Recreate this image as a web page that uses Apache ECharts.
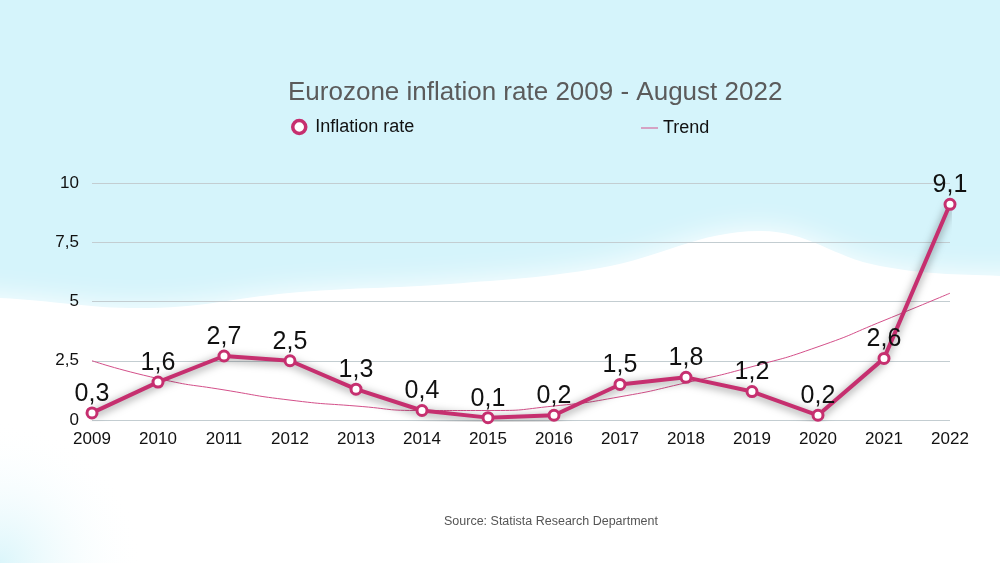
<!DOCTYPE html>
<html><head><meta charset="utf-8">
<script src="https://cdn.jsdelivr.net/npm/echarts@6/dist/echarts.min.js"></script>
<style>html,body{margin:0;padding:0;background:#fff}#c{width:1000px;height:563px}</style>
</head><body><div id="c"></div>
<script>
const years = ['2009','2010','2011','2012','2013','2014','2015','2016','2017','2018','2019','2020','2021','2022'];
const inflation = [0.3,1.6,2.7,2.5,1.3,0.4,0.1,0.2,1.5,1.8,1.2,0.2,2.6,9.1];
const trend = [2.5,1.75,1.27,0.84,0.59,0.4,0.4,0.59,0.98,1.57,2.25,3.09,4.2,5.35];

const MAG = '#c62f6f';
const FONT = "'Liberation Sans', Arial, sans-serif";
const fmt = v => String(v).replace('.', ',');
const chart = echarts.init(document.getElementById('c'));
chart.setOption({
  animation:false,
  backgroundColor:'#d5f4fb',
  graphic:[
    {id:'wave', type:'polygon', z:-10, silent:true,
     shape:{points:[[-100,296],[0,298],[150,308],[300,292],[450,284],[600,268],[760,231],[880,266],[1000,276],[1100,276],[1100,700],[-100,700]], smooth:0.4},
     style:{fill:'#ffffff', shadowBlur:30, shadowColor:'rgba(255,255,255,1)'}},
    {id:'glow', type:'rect', z:-9, silent:true, shape:{x:0,y:420,width:450,height:143},
     style:{fill:new echarts.graphic.RadialGradient(0,1,1,[{offset:0,color:'rgba(213,244,250,0.85)'},{offset:1,color:'rgba(255,255,255,0)'}])}},
    {id:'src', type:'text', left:444, top:515, z:5,
     style:{text:'Source: Statista Research Department', fontSize:12.5, fill:'#555', fontFamily:FONT}}
  ],
  title:{text:'Eurozone inflation rate 2009 - August 2022', left:283, top:75,
    textStyle:{fontSize:26, fontWeight:'normal', color:'#5b5b5b', fontFamily:FONT}},
  legend:[
    {data:[{name:'Inflation rate', icon:'circle', itemStyle:{color:'#fff', borderColor:MAG, borderWidth:3.5}}],
     left:286, top:113, itemWidth:22, itemHeight:13,
     textStyle:{fontSize:18, color:'#111', fontFamily:FONT}},
    {data:[{name:'Trend', icon:'rect'}],
     left:636, top:114, itemWidth:17, itemHeight:1,
     textStyle:{fontSize:18, color:'#111', fontFamily:FONT}}
  ],
  grid:{left:92, right:50, top:183, bottom:143},
  xAxis:{type:'category', data:years, boundaryGap:false,
    axisLine:{show:false}, axisTick:{show:false},
    axisLabel:{fontSize:17, color:'#111', margin:11, fontFamily:FONT}},
  yAxis:{type:'value', min:0, max:10, interval:2.5,
    axisLabel:{fontSize:17, color:'#111', margin:13, fontFamily:FONT, formatter:v=>fmt(v)},
    splitLine:{lineStyle:{color:'#c3cdd1', width:1}}},
  series:[
    {name:'Trend', type:'line', data:trend, smooth:0.6, showSymbol:false, z:1,
     lineStyle:{color:'#d4508a', width:1}, itemStyle:{color:'#d4508a'}},
    {name:'Inflation rate', type:'line', data:inflation, z:3,
     symbol:'circle', symbolSize:10,
     lineStyle:{color:MAG, width:4, shadowColor:'rgba(0,0,0,0.5)', shadowBlur:9, shadowOffsetY:2},
     itemStyle:{color:'#fff', borderColor:MAG, borderWidth:3},
     label:{show:true, position:'top', distance:0, fontSize:25, color:'#111', fontFamily:FONT,
       formatter:p=>fmt(p.value)}}
  ]
});
</script></body></html>
